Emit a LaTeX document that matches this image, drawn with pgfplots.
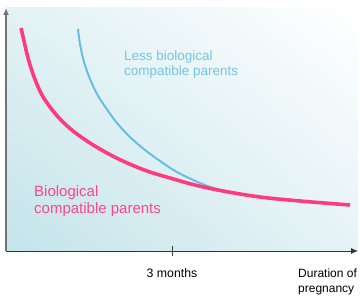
\documentclass[border=0pt]{standalone}
\usepackage{pgfplots}
\pgfplotsset{compat=1.18}
\usetikzlibrary{arrows.meta,shadings}
\usepackage{fontspec}
\setmainfont{Liberation Sans}
\definecolor{pinkc}{RGB}{255,58,125}
\definecolor{bluec}{RGB}{104,190,224}
\definecolor{bluet}{RGB}{118,196,230}
\definecolor{pinkt}{RGB}{255,70,140}
\definecolor{bgll}{RGB}{196,228,234}
\definecolor{bgul}{RGB}{226,242,245}
\definecolor{bglr}{RGB}{230,243,246}
\begin{document}
\begin{tikzpicture}
\begin{axis}[
  scale only axis,
  width=352bp, height=243bp,
  xmin=6, xmax=358, ymin=0, ymax=243,
  axis lines=left,
  x axis line style={draw=black!80, line width=0.9pt, -{Latex[length=7bp,width=6bp]}},
  y axis line style={draw=black!55, line width=1.4pt, -{Latex[length=7bp,width=6bp]}},
  axis background/.style={shade, lower left=bgll, upper left=bgul, lower right=bglr, upper right=white},
  xtick={172}, xticklabels={3 months},
  ytick=\empty,
  major tick length=10bp,
  xtick align=center,
  tick style={draw=black!75, line width=0.8pt},
  xticklabel style={font=\fontsize{12.3bp}{14bp}\selectfont, anchor=base, yshift=-21bp},
  clip=false,
]
\addplot[bluec, line width=2pt, smooth, tension=0.6] coordinates {
(78,222) (80,207) (84,189) (90,172) (97,157) (106,143) (117,128) (130,114) (145,101) (160,90) (177,79) (200,68) (220,61) (240,57) (260,54) (300,50) (350,46)};
\addplot[pinkc, line width=3.6pt, smooth, tension=0.6] coordinates {
(21,223) (24,210) (27,197) (31,183) (36,169) (42,156) (50,144) (60,132) (73,120) (90,108) (107,98) (125,89) (147,80) (170,73) (195,66) (223,60) (260,54) (300,50) (350,46)};
\node[anchor=base west, inner sep=0pt, text=bluet, font=\fontsize{13.5bp}{15bp}\selectfont] at (axis cs:124,190) {Less biological};
\node[anchor=base west, inner sep=0pt, text=bluet, font=\fontsize{13.5bp}{15bp}\selectfont] at (axis cs:124,175) {compatible parents};
\node[anchor=base west, inner sep=0pt, text=pinkt, font=\fontsize{15bp}{17bp}\selectfont] at (axis cs:34,54) {Biological};
\node[anchor=base west, inner sep=0pt, text=pinkt, font=\fontsize{15bp}{17bp}\selectfont] at (axis cs:34,37) {compatible parents};
\node[anchor=base west, inner sep=0pt, font=\fontsize{12bp}{14bp}\selectfont] at (axis cs:298,-26) {Duration of};
\node[anchor=base west, inner sep=0pt, font=\fontsize{12bp}{14bp}\selectfont] at (axis cs:298,-41) {pregnancy};
\coordinate (bl) at (axis cs:0,-49);
\coordinate (tr) at (axis cs:360,251);
\end{axis}
\pgfresetboundingbox
\path (bl) rectangle (tr);
\end{tikzpicture}
\end{document}
